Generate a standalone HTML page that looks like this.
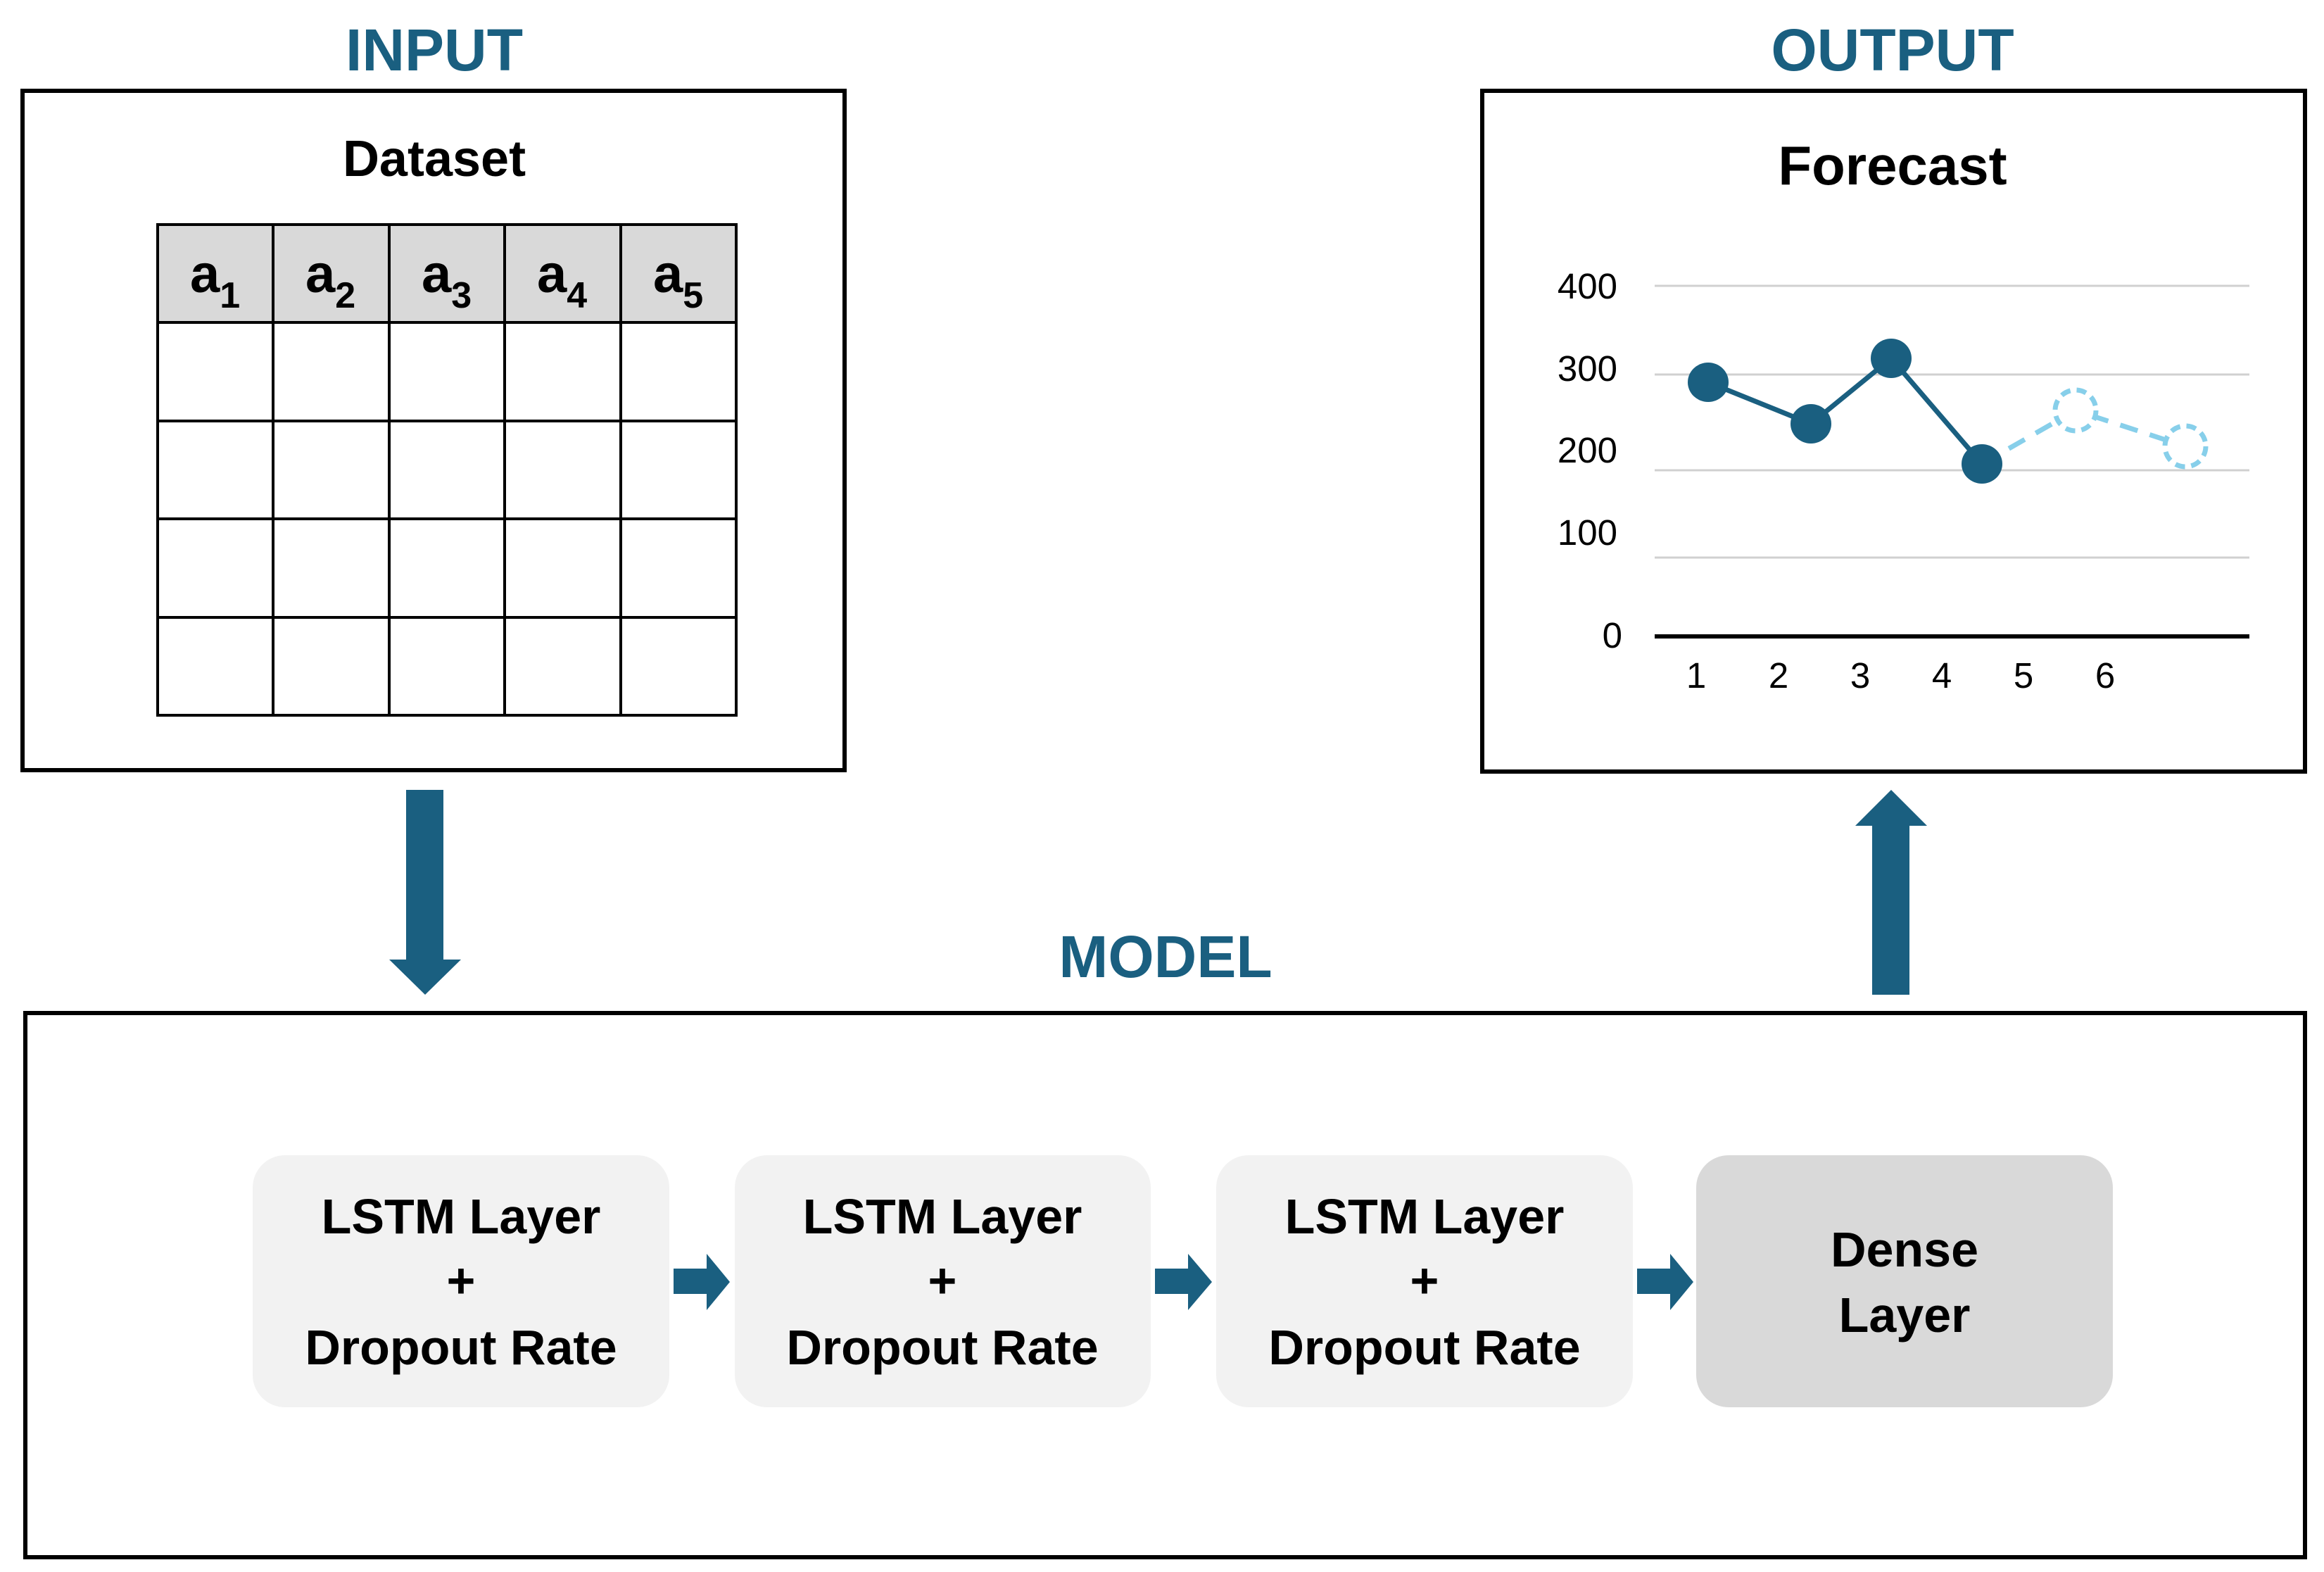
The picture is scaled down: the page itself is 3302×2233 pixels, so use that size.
<!DOCTYPE html>
<html><head><meta charset="utf-8"><style>html,body{margin:0;padding:0;background:#fff}svg{display:block}</style></head>
<body>
<svg width="3302" height="2233" viewBox="0 0 3302 2233" xmlns="http://www.w3.org/2000/svg" font-family="Liberation Sans, sans-serif">
<rect width="3302" height="2233" fill="#fff"/>
<g font-weight="bold" fill="#1a5f80" font-size="84" text-anchor="middle">
<text x="617" y="100">INPUT</text>
<text x="2689" y="100">OUTPUT</text>
<text x="1656" y="1388">MODEL</text>
</g>
<rect x="32" y="129" width="1168" height="965" fill="none" stroke="#000" stroke-width="6"/>
<rect x="2106" y="129" width="1169" height="967" fill="none" stroke="#000" stroke-width="6"/>
<rect x="36" y="1439" width="3239" height="773" fill="none" stroke="#000" stroke-width="6"/>
<text x="617" y="250" font-size="72" font-weight="bold" text-anchor="middle">Dataset</text>
<rect x="224" y="319" width="822" height="139" fill="#d9d9d9"/>
<g stroke="#000" stroke-width="4" fill="none">
<rect x="224" y="319" width="822" height="697"/>
<line x1="388" y1="319" x2="388" y2="1016"/><line x1="553" y1="319" x2="553" y2="1016"/><line x1="717" y1="319" x2="717" y2="1016"/><line x1="882" y1="319" x2="882" y2="1016"/>
<line x1="224" y1="458" x2="1046" y2="458"/><line x1="224" y1="598" x2="1046" y2="598"/><line x1="224" y1="737" x2="1046" y2="737"/><line x1="224" y1="877" x2="1046" y2="877"/>
</g>
<g font-weight="bold" font-size="76">
<text x="270" y="415">a<tspan font-size="52" dy="22">1</tspan></text>
<text x="434" y="415">a<tspan font-size="52" dy="22">2</tspan></text>
<text x="599" y="415">a<tspan font-size="52" dy="22">3</tspan></text>
<text x="763" y="415">a<tspan font-size="52" dy="22">4</tspan></text>
<text x="928" y="415">a<tspan font-size="52" dy="22">5</tspan></text>
</g>
<text x="2689" y="262" font-size="78" font-weight="bold" text-anchor="middle">Forecast</text>
<g stroke="#d0d0d0" stroke-width="3">
<line x1="2351" y1="406" x2="3196" y2="406"/><line x1="2351" y1="532" x2="3196" y2="532"/><line x1="2351" y1="668" x2="3196" y2="668"/><line x1="2351" y1="792" x2="3196" y2="792"/>
</g>
<line x1="2351" y1="904" x2="3196" y2="904" stroke="#000" stroke-width="6"/>
<g font-size="51" text-anchor="end">
<text x="2298" y="424">400</text><text x="2298" y="541">300</text><text x="2298" y="657">200</text><text x="2298" y="774">100</text><text x="2305" y="920">0</text>
</g>
<g font-size="51" text-anchor="middle">
<text x="2410" y="977">1</text><text x="2527" y="977">2</text><text x="2643" y="977">3</text><text x="2759" y="977">4</text><text x="2875" y="977">5</text><text x="2991" y="977">6</text>
</g>
<polyline points="2427,543 2573,602 2687,509 2816,659" fill="none" stroke="#1a5f80" stroke-width="7"/>
<polyline points="2816,659 2949,583 3105,634" fill="none" stroke="#87cfea" stroke-width="7" stroke-dasharray="26,18"/>
<g fill="#1a5f80">
<ellipse cx="2427" cy="543" rx="29" ry="28"/><ellipse cx="2573" cy="602" rx="29" ry="28"/><ellipse cx="2687" cy="509" rx="29" ry="28"/><ellipse cx="2816" cy="659" rx="29" ry="28"/>
</g>
<g fill="#fff" stroke="#87cfea" stroke-width="7" stroke-dasharray="14,9">
<circle cx="2949" cy="583" r="29"/><circle cx="3105" cy="634" r="29"/>
</g>
<g fill="#1a5f80">
<polygon points="577,1122 630,1122 630,1363 655,1363 604,1413 553,1363 577,1363"/>
<polygon points="2660,1413 2713,1413 2713,1173 2738,1173 2687,1122 2636,1173 2660,1173"/>
<polygon points="957,1802 1004,1802 1004,1781 1037,1821 1004,1861 1004,1838 957,1838"/>
<polygon points="1641,1802 1688,1802 1688,1781 1722,1821 1688,1861 1688,1838 1641,1838"/>
<polygon points="2326,1802 2373,1802 2373,1781 2406,1821 2373,1861 2373,1838 2326,1838"/>
</g>
<rect x="359" y="1641" width="592" height="358" rx="46" fill="#f2f2f2"/>
<rect x="1044" y="1641" width="591" height="358" rx="46" fill="#f2f2f2"/>
<rect x="1728" y="1641" width="592" height="358" rx="46" fill="#f2f2f2"/>
<rect x="2410" y="1641" width="592" height="358" rx="46" fill="#d9d9d9"/>
<g font-size="70" font-weight="bold" text-anchor="middle">
<text x="655" y="1752">LSTM Layer</text><text x="655" y="1843">+</text><text x="655" y="1938">Dropout Rate</text>
<text x="1339" y="1752">LSTM Layer</text><text x="1339" y="1843">+</text><text x="1339" y="1938">Dropout Rate</text>
<text x="2024" y="1752">LSTM Layer</text><text x="2024" y="1843">+</text><text x="2024" y="1938">Dropout Rate</text>
<text x="2706" y="1799">Dense</text><text x="2706" y="1892">Layer</text>
</g>
</svg>
</body></html>
